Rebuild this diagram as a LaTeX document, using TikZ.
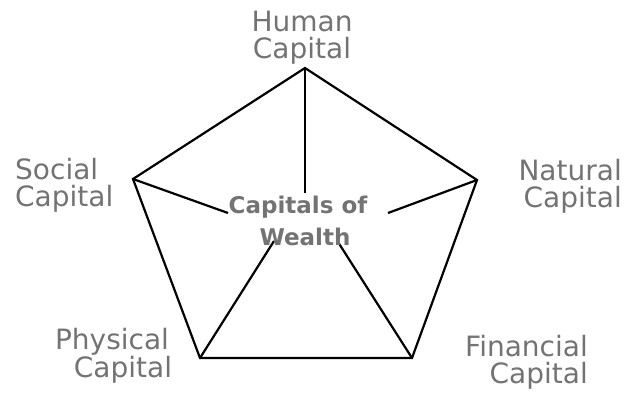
\documentclass[tikz,border=0pt]{standalone}
\usepackage{fontspec}
\setmainfont{DejaVu Sans}
\usepackage{xcolor}
\usetikzlibrary{positioning, calc}

\begin{document}
\begin{tikzpicture}[
  x=1pt, y=-1pt,
  every node/.style={inner sep=0pt},
  capital lbl/.style={text=black!55, font=\fontsize{28}{27}\selectfont},
  hub/.style={text=black!55, font=\fontsize{23}{32}\selectfont\bfseries, align=center},
  rim/.style={black, line width=2.2pt, line join=miter},
  spoke/.style={black, line width=2.2pt}
]
\useasboundingbox (0,0) rectangle (631,397);

%% pentagon corners
\coordinate (hum) at (305,68);
\coordinate (nat) at (477,180);
\coordinate (fin) at (412,358);
\coordinate (phy) at (200,358);
\coordinate (soc) at (133,179);

%% inner ends of the spokes
\coordinate (hum-in) at (305,193);
\coordinate (nat-in) at (388,213);
\coordinate (fin-in) at (338,242);
\coordinate (phy-in) at (274,241);
\coordinate (soc-in) at (228,213);

%% outline
\draw[rim] (hum) -- (nat) -- (fin) -- (phy) -- (soc) -- cycle;

%% spokes
\foreach \a in {hum, nat, fin, phy, soc}
  \draw[spoke] (\a) -- (\a-in);

%% centre text
\node[hub] (wealth) at (298,221) {Capitals of\\\hspace*{14pt}Wealth};

%% capital labels
\node[capital lbl, align=center] (hum-lbl) at (302,38) {Human\\Capital};
\node[capital lbl, align=left, anchor=west] (soc-lbl) at (15,185) {Social\\Capital};
\node[capital lbl, align=right, anchor=east] (nat-lbl) at (622,186) {Natural\\Capital};
\node[capital lbl, align=center] (phy-lbl) at (112,356) {Physical\\\hspace*{22pt}Capital};
\node[capital lbl, align=right, anchor=east] (fin-lbl) at (588,362) {Financial\\Capital};
\end{tikzpicture}
\end{document}
